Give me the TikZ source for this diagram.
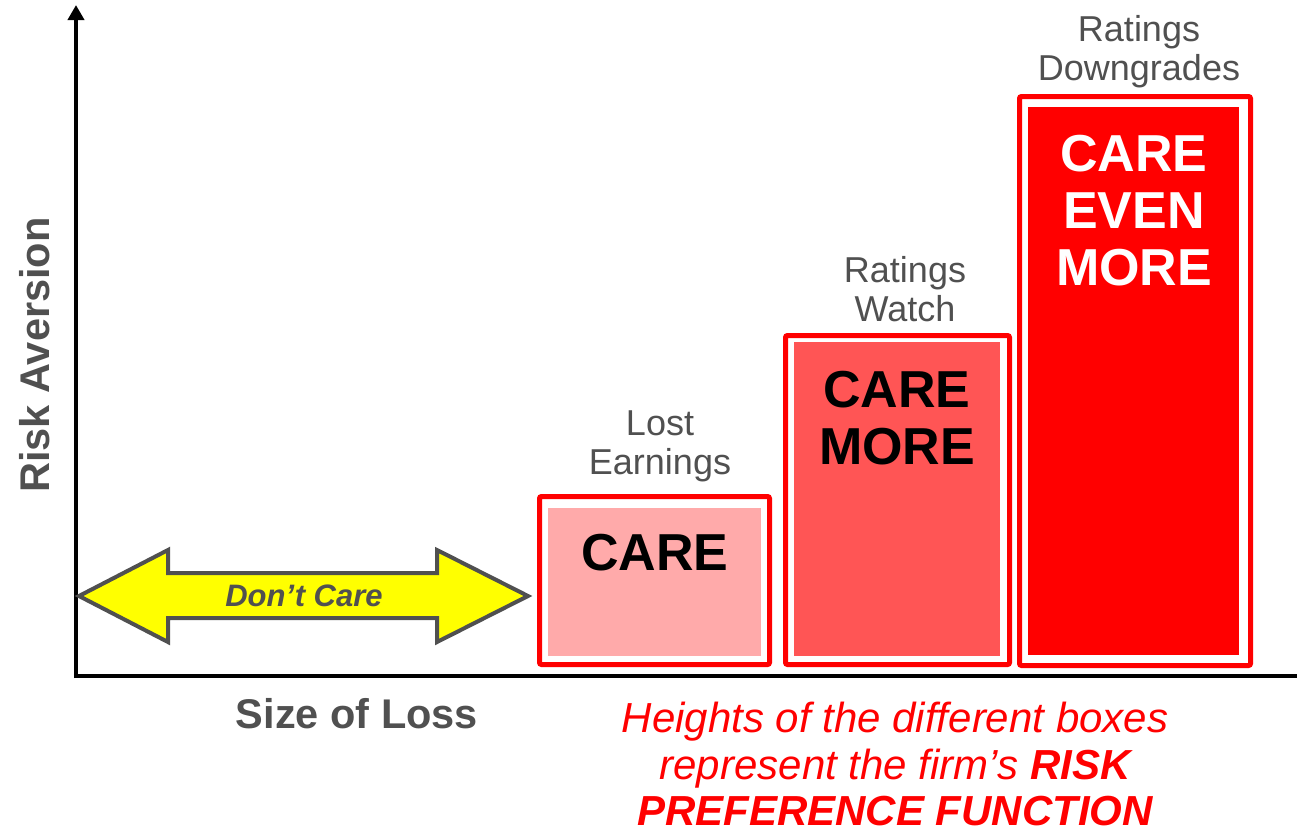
\documentclass[tikz,border=0pt]{standalone}
\usepackage{fontspec}
\setmainfont{Liberation Sans}
\usepackage{tikz}
\usetikzlibrary{positioning}
\usetikzlibrary{arrows.meta}
\definecolor{axisgray}{HTML}{505050}
\definecolor{boxred}{HTML}{FF0000}
\definecolor{lowfill}{HTML}{FFAAAA}
\definecolor{midfill}{HTML}{FF5555}
\definecolor{careyellow}{HTML}{FFFF00}
\tikzset{outerbox/.style={draw=boxred, line width=5pt, rounded corners=2pt}}
\tikzset{innerbox/.style={fill=#1, draw=none}}
\tikzset{boxlabel/.style={text=axisgray, align=center, font=\fontsize{36}{39}\selectfont}}
\tikzset{caretext/.style={align=center, font=\fontsize{52}{57}\selectfont\bfseries}}
\tikzset{axistext/.style={text=axisgray, font=\fontsize{41.5}{46}\selectfont\bfseries}}

\begin{document}
\begin{tikzpicture}[x=1pt, y=-1pt]
\useasboundingbox (0,0) rectangle (1297,828);
% axes
\coordinate (origin) at (76,676);
\coordinate (ytop) at (76,5);
\coordinate (xend) at (1297,676);
\draw[line width=4.5pt, -{Triangle[length=15pt, width=16pt]}] (76,678) -- (ytop);
\draw[line width=4.5pt] (73.75,676) -- (xend);

% don't care arrow
\draw[draw=axisgray, fill=careyellow, line width=4pt, line join=miter]
  (79,596) -- (168,550) -- (168,573) -- (437,573) -- (437,550) -- (528,596)
  -- (437,642) -- (437,618) -- (168,618) -- (168,642) -- cycle;
\node[text=axisgray, font=\fontsize{31}{34}\selectfont\bfseries\itshape] (dontcare) at (304,596) {Don’t Care};

% boxes
\draw[outerbox] (539.5,496.5) rectangle (769.5,664.5);
\fill[innerbox=lowfill] (548,508) rectangle (761,656);
\draw[outerbox] (785.5,335.5) rectangle (1009.5,664.5);
\fill[innerbox=midfill] (794,342) rectangle (1000,656);
\draw[outerbox] (1019.5,96.5) rectangle (1250.5,665.5);
\fill[innerbox=boxred] (1028,107) rectangle (1239,655);

\node[caretext] (care) at (655,553) {CARE};
\node[caretext] (caremore) at (897,418) {CARE\\MORE};
\node[caretext, text=white] (careevenmore) at (1134,211) {CARE\\EVEN\\MORE};

\node[boxlabel] (lost) at (660,446) {Lost\\Earnings};
\node[boxlabel] (watch) at (905,289) {Ratings\\Watch};
\node[boxlabel] (downgrade) at (1139,52) {Ratings\\Downgrades};

% axis titles
\node[axistext, rotate=90] (aversion) at (35,355) {Risk Aversion};
\node[axistext] (loss) at (357,714) {Size of Loss};

\node[text=boxred, align=center, inner sep=0pt, font=\fontsize{42}{46.5}\selectfont\itshape] (note) at (895,764)
  {Heights of the different boxes\\represent the firm’s \textbf{RISK}\\\textbf{PREFERENCE FUNCTION}};
\end{tikzpicture}
\end{document}
